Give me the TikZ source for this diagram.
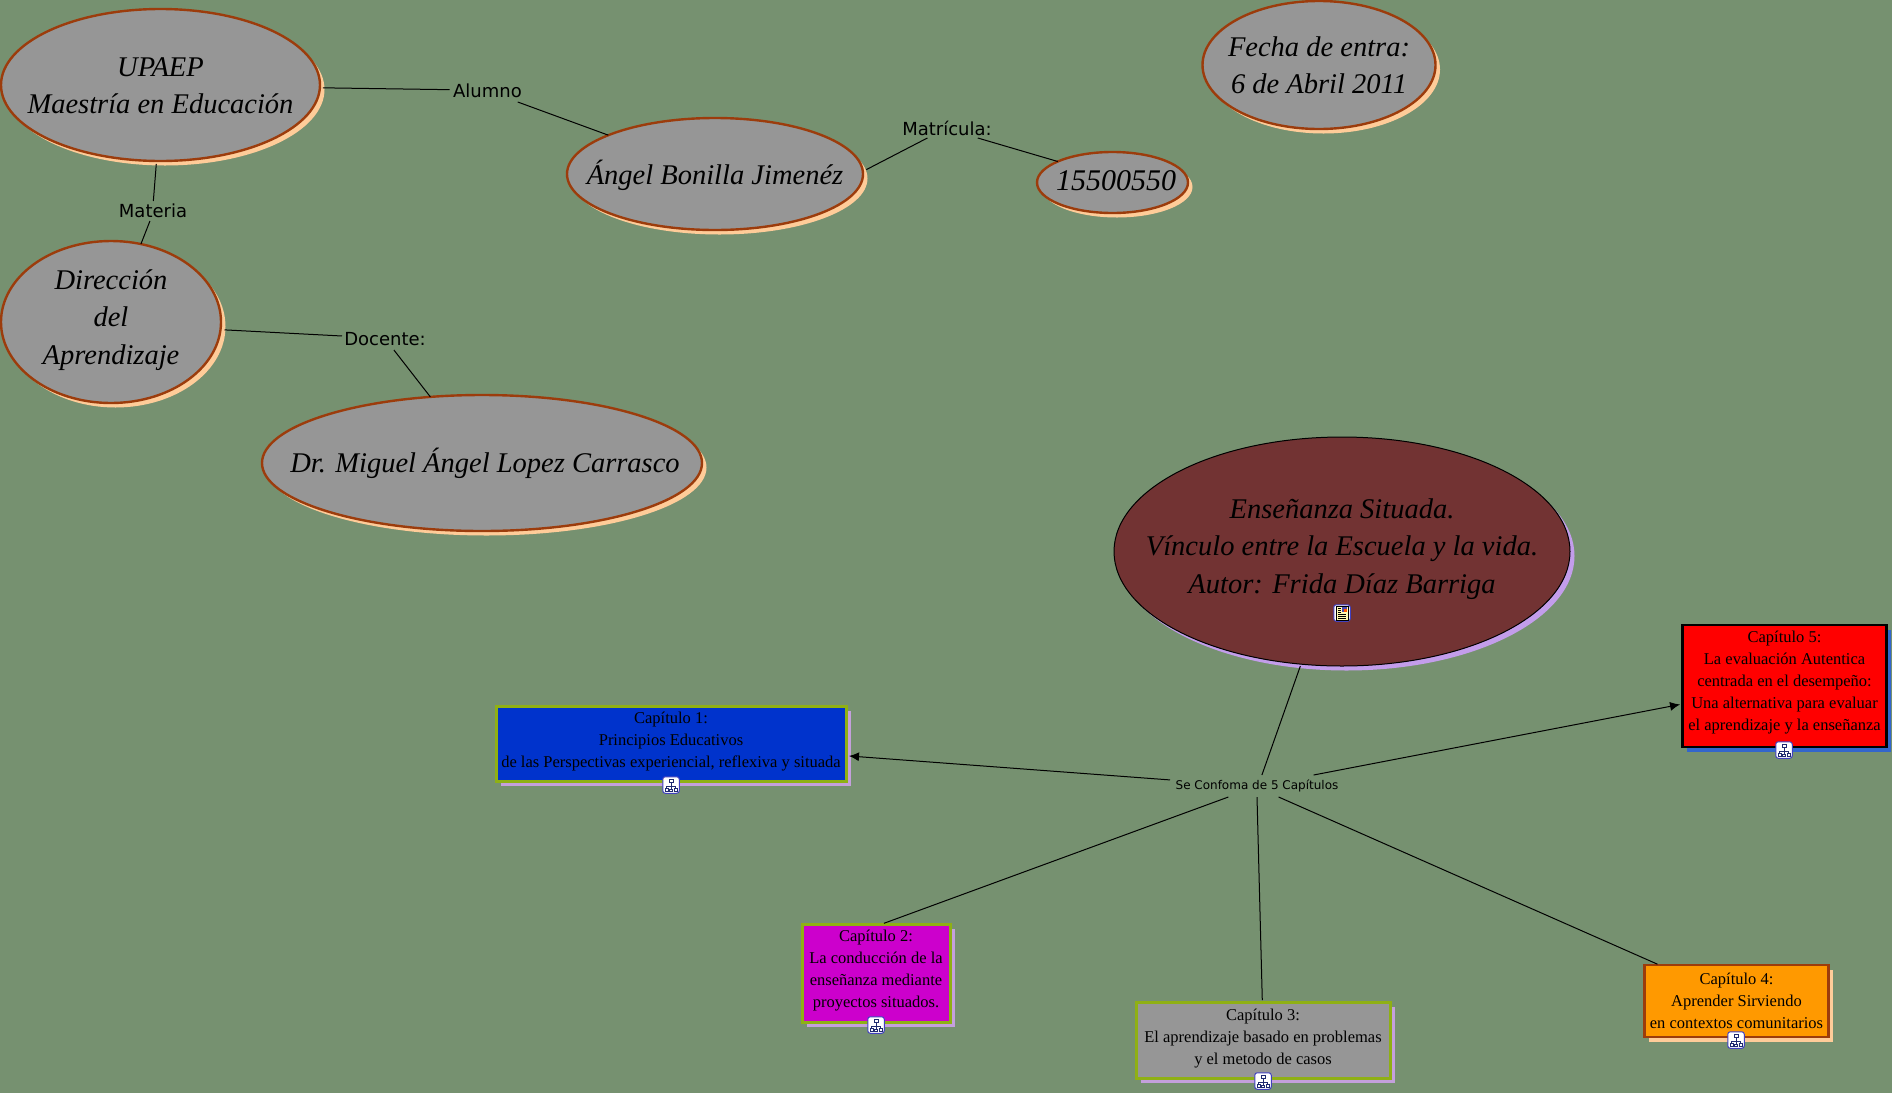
\documentclass[tikz,border=0pt]{standalone}
\usepackage{fontspec}
\setmainfont{Liberation Serif}
\newfontfamily\lblfont{DejaVu Sans}
\usetikzlibrary{shapes.geometric,shadows,arrows.meta}
\definecolor{bgc}{HTML}{769170}
\definecolor{gry}{HTML}{969696}
\definecolor{rust}{HTML}{9C3C0C}
\definecolor{peach}{HTML}{FFCC99}
\definecolor{maroon}{HTML}{723333}
\definecolor{lilac}{HTML}{C39DEB}
\definecolor{lilacb}{HTML}{C4A0DC}
\definecolor{lime}{HTML}{8FB014}
\definecolor{navyi}{HTML}{1F2A70}
\newcommand{\fsz}[2]{\fontsize{#1}{#2}\selectfont}
\tikzset{
  x=1pt,y=-1pt,
  oval/.style n args={2}{ellipse,inner sep=0,outer sep=0,draw=rust,line width=2.4pt,fill=gry,minimum width=#1,minimum height=#2,
     general shadow={draw=none,fill=peach,shadow xshift=4.5pt,shadow yshift=-4.5pt}},
  bigtext/.style={align=center,inner sep=0,font=\itshape\fsz{28.5}{37.5}},
  boxn/.style n args={5}{rectangle,inner sep=0,outer sep=0,line width=#3,draw=#4,fill=#5,minimum width=#1,minimum height=#2,align=center,text=black,font=\fsz{16.5}{22}},
  boxt/.style={align=center,inner sep=0,font=\fsz{16.5}{22}},
  lab/.style n args={2}{rectangle,inner sep=0,outer sep=0,minimum width=#1,minimum height=#2,font=\lblfont\fsz{18}{22}},
  conn/.style={draw=black,line width=1pt},
  arr/.style={conn,-{Latex[length=10pt,width=9pt]}},
  iconbox/.style={draw=blue!50!gray,fill=white,line width=1pt,rounded corners=2.5pt,minimum size=16.5pt,inner sep=0,outer sep=0},
  hier/.pic={
    \node[iconbox] {};
    \draw[navyi,line width=1pt] (-2,-6) rectangle (2,-3) (0,-3) -- (0,1) (-4.5,1) -- (4.5,1) (-4.5,1) -- (-4.5,3) (4.5,1) -- (4.5,3) (0,1)--(0,4);
    \draw[navyi,line width=1pt,fill=white] (-6,3) rectangle (-3,6) (-1.5,4) rectangle (1.5,6.5) (3,3) rectangle (6,6);
  },
  docicon/.pic={
    \node[iconbox] {};
    \fill[yellow!30] (-6,-7) rectangle (6,7);
    \draw[black,line width=.9pt] (-6,-7) rectangle (6,7);
    \draw[black,line width=.9pt] (-4,-5) -- (-1,-5) (-4,-3) -- (-1,-3) (-4,-1) -- (-1,-1) (-4,1) -- (4,1) (-4,3) -- (4,3) (-4,5) -- (4,5);
    \fill[blue!40!gray] (0,-6) rectangle (5,-1);
    \fill[orange!70!red] (2,-4) rectangle (4.5,-1.5);
  },
}
\begin{document}
\begin{tikzpicture}
\path[use as bounding box,fill=bgc] (0,0) rectangle (1892,1093);

% ovals
\node[oval={319pt}{152pt}] (upaep) at (160.5,85) {};
\node[bigtext] (upaept) at (160.5,86) {UPAEP\\Maestría en Educación};
\node[oval={220pt}{162pt}] (dir) at (111,322) {};
\node[bigtext] (dirt) at (111,320) {Dirección\\del\\Aprendizaje};
\node[oval={296pt}{112pt}] (angel) at (715,174) {};
\node[bigtext] (angelt) at (715,175) {Ángel Bonilla Jimenéz};
\node[oval={151pt}{61pt}] (mat) at (1112.5,182.5) {};
\node[bigtext,font=\itshape\fsz{30}{37.5}] (matt) at (1116,181) {15500550};
\node[oval={233pt}{128pt}] (fecha) at (1319,65) {};
\node[bigtext] (fechat) at (1319,65.5) {Fecha de entra:\\6 de Abril 2011};
\node[oval={440pt}{136pt}] (doc) at (482,463) {};
\node[bigtext] (doct) at (485,463) {Dr. Miguel Ángel Lopez Carrasco};
\node[ellipse,inner sep=0,outer sep=0,draw=black,line width=1pt,fill=maroon,minimum width=456pt,minimum height=229pt,
   general shadow={draw=none,fill=lilac,shadow xshift=4.5pt,shadow yshift=-4.5pt}] (main) at (1342,551.5) {};
\node[bigtext] (maint) at (1342,549) {Enseñanza Situada.\\Vínculo entre la Escuela y la vida.\\Autor: Frida Díaz Barriga};

% boxes
\node[boxn={350pt}{75pt}{3pt}{lime}{blue},fill={rgb,255:red,0;green,51;blue,204},general shadow={draw=none,fill=lilacb,shadow xshift=5pt,shadow yshift=-5pt}] (c1) at (671,743.5) {};
\node[boxt] (c1t) at (671,742) {Capítulo 1:\\Principios Educativos\\de las Perspectivas experiencial, reflexiva y situada};
\node[boxn={148pt}{98pt}{3pt}{lime}{magenta},fill={rgb,255:red,204;green,0;blue,204},general shadow={draw=none,fill=lilacb,shadow xshift=5pt,shadow yshift=-5pt}] (c2) at (876,973) {};
\node[boxt] (c2t) at (876,970.5) {Capítulo 2:\\La conducción de la\\enseñanza mediante\\proyectos situados.};
\node[boxn={254pt}{76pt}{3pt}{lime}{gry},general shadow={draw=none,fill=lilacb,shadow xshift=4.5pt,shadow yshift=-5pt}] (c3) at (1263,1040) {};
\node[boxt] (c3t) at (1263,1038.5) {Capítulo 3:\\El aprendizaje basado en problemas\\y el metodo de casos};
\node[boxn={184pt}{72pt}{2.5pt}{rust}{orange},fill={rgb,255:red,255;green,153;blue,0},general shadow={draw=none,fill=peach,shadow xshift=4.5pt,shadow yshift=-5pt}] (c4) at (1736.5,1001) {};
\node[boxt] (c4t) at (1736.5,1001) {Capítulo 4:\\Aprender Sirviendo\\en contextos comunitarios};
\node[boxn={204pt}{122pt}{2.5pt}{black}{red},general shadow={draw=none,fill={rgb,255:red,51;green,102;blue,204},shadow xshift=4.5pt,shadow yshift=-5pt}] (c5) at (1784.5,686) {};
\node[boxt] (c5t) at (1784.5,683) {Capítulo 5:\\La evaluación Autentica\\centrada en el desempeño:\\Una alternativa para evaluar\\el aprendizaje y la enseñanza};

% labels
\node[lab={76pt}{22pt}] (alumno) at (487.5,91) {Alumno};
\node[lab={70pt}{20pt}] (materia) at (153,211) {Materia};
\node[lab={86pt}{22pt}] (docente) at (385,339) {Docente:};
\node[lab={92pt}{20pt}] (matricula) at (947,128) {Matrícula:};
\node[lab={174pt}{22pt},font=\lblfont\fsz{12}{16}] (conf) at (1257,786) {Se Confoma de 5 Capítulos};

% connectors
\draw[conn,shorten <=3pt] (upaep.359) -- (alumno.178);
\draw[conn] (alumno.340) -- (angel.160);
\draw[conn,shorten <=3pt] (upaep.267.4) -- (materia.88);
\draw[conn] (materia.253) -- (dir.69.2);
\draw[conn,shorten <=4pt] (dir.356.5) -- (docente.176);
\draw[conn] (docente.309) -- (doc.128.8);
\draw[conn,shorten <=4pt] (angel.1) -- (matricula.207.8);
\draw[conn] (matricula.342) -- (mat.159.2);
\draw[conn,shorten <=2pt] (main.250.2) -- (conf.66);
\draw[arr,shorten >=3pt] (conf.176) -- (c1.356.2);
\draw[arr,shorten >=2.5pt] (conf.11.7) -- (c5.190.5);
\draw[conn,shorten >=2pt] (conf.201.4) -- (c2.83);
\draw[conn,shorten >=2pt] (conf.270) -- (c3.91);
\draw[conn,shorten >=2pt] (conf.333.4) -- (c4.155.9);

% icons
\pic at (671,785) {hier};
\pic at (876,1025) {hier};
\pic at (1263,1081) {hier};
\pic at (1736,1040) {hier};
\pic at (1784,750) {hier};
\pic at (1342,613) {docicon};
\end{tikzpicture}
\end{document}
